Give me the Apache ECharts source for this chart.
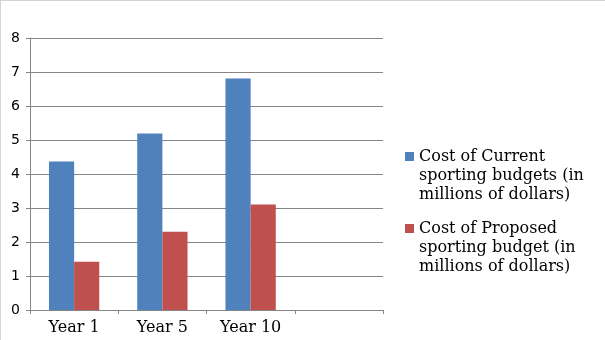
<!DOCTYPE html>
<html>
<head>
<meta charset="utf-8">
<script src="https://cdn.jsdelivr.net/npm/echarts@6/dist/echarts.min.js"></script>
<style>
html,body{margin:0;padding:0;background:#fff;}
#c{width:604px;height:339px;border-left:1px solid #d4d4d4;border-top:1px solid #d4d4d4;}
</style>
</head>
<body>
<div id="c"></div>
<script>
var categories = ['Year 1', 'Year 5', 'Year 10', ''];
var currentName = 'Cost of Current\nsporting budgets (in\nmillions of dollars)';
var proposedName = 'Cost of Proposed\nsporting budget (in\nmillions of dollars)';
var currentValues = [4.37, 5.19, 6.81];
var proposedValues = [1.42, 2.30, 3.10];
var yTicks = {min: 0, max: 8, interval: 1};

var chart = echarts.init(document.getElementById('c'), null, {renderer: 'canvas'});
var legendText = {fontFamily: 'DejaVu Serif', fontSize: 16, color: '#000', lineHeight: 19};
function legendFmt(n) { return ' \n \n' + n; }
chart.setOption({
  animation: false,
  grid: {left: 29, right: 222, top: 37, bottom: 30, containLabel: false},
  legend: [
    {data: [currentName], left: 404, top: 108, padding: 0, itemWidth: 9, itemHeight: 9, icon: 'rect', textStyle: legendText, formatter: legendFmt, selectedMode: false},
    {data: [proposedName], left: 404, top: 180, padding: 0, itemWidth: 9, itemHeight: 9, icon: 'rect', textStyle: legendText, formatter: legendFmt, selectedMode: false}
  ],
  xAxis: {
    type: 'category',
    data: categories,
    boundaryGap: true,
    axisLine: {lineStyle: {color: '#868686', width: 1}},
    axisTick: {show: true, interval: 0, length: 4, lineStyle: {color: '#868686'}},
    axisLabel: {fontFamily: 'DejaVu Serif', fontSize: 16, color: '#000', margin: 10, interval: 0}
  },
  yAxis: {
    type: 'value',
    min: yTicks.min, max: yTicks.max, interval: yTicks.interval,
    axisLine: {show: true, lineStyle: {color: '#868686', width: 1}},
    axisTick: {show: true, length: 4, lineStyle: {color: '#868686'}},
    splitLine: {show: true, lineStyle: {color: '#868686', width: 1}},
    axisLabel: {fontFamily: 'DejaVu Sans', fontSize: 14, color: '#000', margin: 10}
  },
  series: [
    {name: currentName, type: 'bar', data: currentValues, barGap: '0%', barCategoryGap: '43%', itemStyle: {color: '#4F81BD'}},
    {name: proposedName, type: 'bar', data: proposedValues, barGap: '0%', barCategoryGap: '43%', itemStyle: {color: '#C0504D'}}
  ]
});
</script>
</body>
</html>
